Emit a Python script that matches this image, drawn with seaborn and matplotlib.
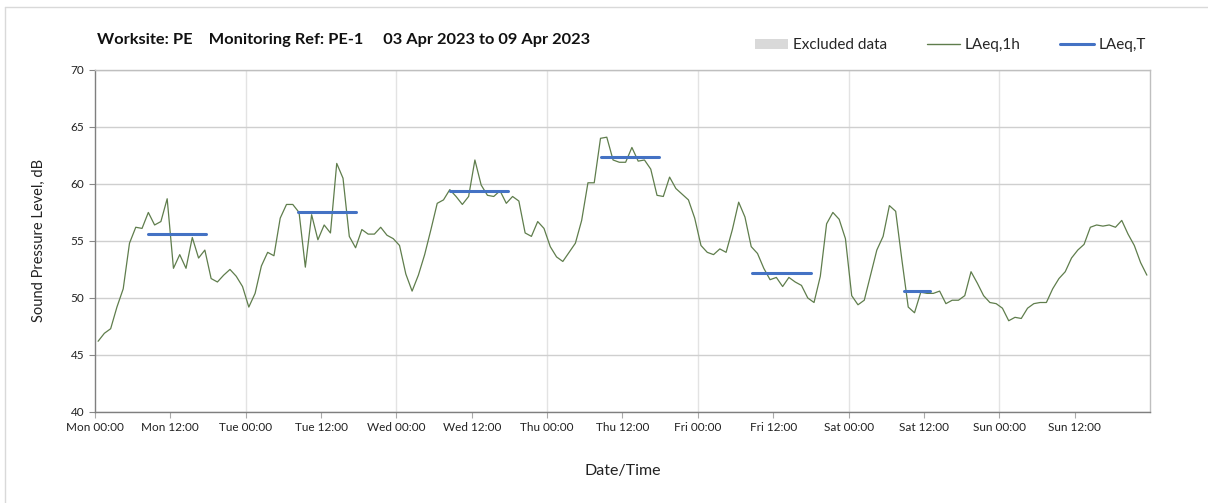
import numpy as np
import pandas as pd
import matplotlib
matplotlib.use('Agg')
import matplotlib.pyplot as plt
import seaborn as sns
from matplotlib.patches import Patch
from matplotlib.lines import Line2D

# hourly LAeq,1h, Mon 00:00 .. Sun 23:00
laeq_1h = [46.2, 46.9, 47.3, 49.2, 50.8, 54.8, 56.2, 56.1, 57.5, 56.4, 56.7, 58.7,
           52.6, 53.8, 52.6, 55.3, 53.5, 54.2, 51.7, 51.4, 52.0, 52.5, 51.9, 51.0,
           49.2, 50.4, 52.8, 54.0, 53.7, 57.0, 58.2, 58.2, 57.5, 52.7, 57.3, 55.1,
           56.4, 55.7, 61.8, 60.5, 55.4, 54.4, 56.0, 55.6, 55.6, 56.2, 55.5, 55.2,
           54.6, 52.1, 50.6, 52.0, 53.8, 56.0, 58.3, 58.6, 59.5, 58.9, 58.2, 58.9,
           62.1, 59.9, 59.0, 58.9, 59.4, 58.3, 58.9, 58.5, 55.7, 55.4, 56.7, 56.1,
           54.5, 53.6, 53.2, 54.0, 54.8, 56.8, 60.1, 60.1, 64.0, 64.1, 62.1, 61.9,
           61.9, 63.2, 62.0, 62.1, 61.3, 59.0, 58.9, 60.6, 59.6, 59.1, 58.6, 57.0,
           54.6, 54.0, 53.8, 54.3, 54.0, 56.0, 58.4, 57.1, 54.5, 53.9, 52.6, 51.6,
           51.8, 51.0, 51.8, 51.4, 51.1, 50.0, 49.6, 51.9, 56.5, 57.5, 56.9, 55.2,
           50.2, 49.4, 49.8, 52.0, 54.2, 55.4, 58.1, 57.6, 53.3, 49.2, 48.7, 50.5,
           50.4, 50.4, 50.6, 49.5, 49.8, 49.8, 50.2, 52.3, 51.3, 50.2, 49.6, 49.5,
           49.1, 48.0, 48.3, 48.2, 49.1, 49.5, 49.6, 49.6, 50.8, 51.7, 52.3, 53.5,
           54.2, 54.7, 56.2, 56.4, 56.3, 56.4, 56.2, 56.8, 55.6, 54.6, 53.1, 52.0]

# LAeq,T working-period levels (start/end in hours from Mon 00:00)
period_start = [8.5, 32.4, 56.5, 80.6, 104.6, 128.8]
period_end = [17.7, 41.6, 65.8, 89.8, 114.0, 132.9]
laeq_t = [55.6, 57.5, 59.4, 62.4, 52.2, 50.6]

days = ['Mon', 'Tue', 'Wed', 'Thu', 'Fri', 'Sat', 'Sun']
tick_labels = ['{} {}'.format(d, t) for d in days for t in ['00:00', '12:00']]

sns.set_style('white')
plt.rcParams['font.family'] = ['Lato', 'DejaVu Sans']

green = '#5f7d4c'
blue = '#4472c4'

df = pd.DataFrame({'hour': np.arange(len(laeq_1h)) + 0.5, 'level': laeq_1h})
seg = pd.DataFrame({
    'hour': period_start + period_end,
    'level': laeq_t + laeq_t,
    'period': list(range(len(laeq_t))) * 2,
})

fig = plt.figure(figsize=(12.08, 5.03), dpi=100)
ax = fig.add_axes([0.0786, 0.181, 0.8734, 0.680])

ax.set_axisbelow(True)
ax.yaxis.grid(True, color='#cfcfcf', linewidth=1.0)
for d in range(1, 7):
    ax.axvline(d * 24, color='#e3e3e3', linewidth=1.0, zorder=0)

sns.lineplot(data=df, x='hour', y='level', ax=ax, color=green, linewidth=0.9)
sns.lineplot(data=seg, x='hour', y='level', units='period', estimator=None,
             ax=ax, color=blue, linewidth=2.2)

ax.set_xlim(0, 168)
ax.set_ylim(40, 70)
ax.set_yticks(range(40, 71, 5))
ax.set_xticks(range(0, 168, 12))
ax.set_xticklabels(tick_labels)
ax.tick_params(axis='both', labelsize=8.5, colors='#222222', length=4,
               direction='out', width=0.8, bottom=True, left=True)
ax.tick_params(axis='x', colors='#aaaaaa', labelcolor='#222222')
ax.tick_params(axis='y', colors='#888888', labelcolor='#222222')

for side in ['left', 'bottom']:
    ax.spines[side].set_color('#7f7f7f')
for side in ['top', 'right']:
    ax.spines[side].set_color('#bfbfbf')
for s in ax.spines.values():
    s.set_linewidth(1.0)

ax.set_xlabel('Date/Time', fontsize=11.5, labelpad=22, color='#222222')
ax.set_ylabel('Sound Pressure Level, dB', fontsize=10.5, labelpad=18, color='#222222')

fig.text(0.080, 0.920, 'Worksite: PE    Monitoring Ref: PE-1     03 Apr 2023 to 09 Apr 2023',
         fontsize=11.8, fontweight='bold', color='#111111', va='center')

handles = [Patch(facecolor='#d9d9d9', edgecolor='none', label='Excluded data'),
           Line2D([], [], color=green, linewidth=1.0, label='LAeq,1h'),
           Line2D([], [], color=blue, linewidth=2.2, label='LAeq,T')]
fig.legend(handles=handles, loc='center right', bbox_to_anchor=(0.960, 0.910),
           ncol=3, frameon=False, fontsize=11, handlelength=2.2,
           handletextpad=0.3, columnspacing=2.6)

# outer frame of the chart area
fig.add_artist(Line2D([0.004, 0.004], [0, 0.986], transform=fig.transFigure,
                      color='#d9d9d9', linewidth=1.0))
fig.add_artist(Line2D([0.004, 1.0], [0.986, 0.986], transform=fig.transFigure,
                      color='#d9d9d9', linewidth=1.0))

fig.savefig('out.png', dpi=100)
